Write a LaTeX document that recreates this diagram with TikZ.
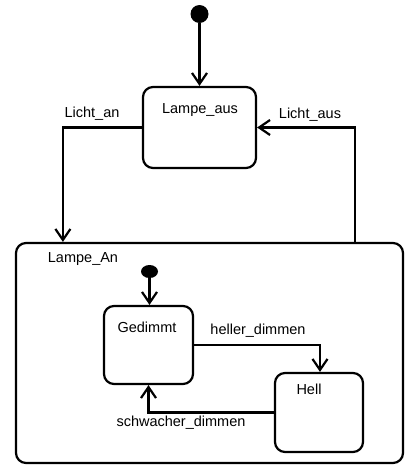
\documentclass[tikz,border=0pt]{standalone}
\usepackage{fontspec}
\setmainfont{Liberation Sans}
\usetikzlibrary{arrows.meta,shapes.geometric}
\begin{document}
\begin{tikzpicture}[x=1pt,y=-1pt,
  statebox/.style={draw,line width=2.2pt,rounded corners=10pt,rectangle,inner sep=0pt},
  lbl/.style={inner sep=0pt,font=\fontsize{14.5}{16}\selectfont},
  initdot/.style={fill=black,draw=none,inner sep=0pt},
  arr/.style={line width=2.2pt,-{Straight Barb[length=11pt,width=15pt,line width=2.2pt]}}]
\useasboundingbox (0,0) rectangle (414,474);
% nodes
\node[initdot,circle,minimum size=18pt] (i1) at (199.5,14) {};
\node[statebox,minimum width=113pt,minimum height=81pt] (aus) at (199.5,127.5) {};
\node[lbl] (tAus) at (200,110) {Lampe\_aus};
\node[statebox,minimum width=387pt,minimum height=220pt] (an) at (209.5,353) {};
\node[lbl] (tAn) at (83,259) {Lampe\_An};
\node[initdot,ellipse,minimum width=17pt,minimum height=13pt] (i2) at (149.5,271.5) {};
\node[statebox,minimum width=89pt,minimum height=78pt] (ged) at (148.5,345) {};
\node[lbl] (tGed) at (147,327) {Gedimmt};
\node[statebox,minimum width=88pt,minimum height=79pt] (hell) at (319,412.5) {};
\node[lbl] (tHell) at (309,389) {Hell};
% edge labels
\node[lbl] (lAn) at (92,114) {Licht\_an};
\node[lbl] (lAus) at (310,115) {Licht\_aus};
\node[lbl] (lHel) at (258,331) {heller\_dimmen};
\node[lbl] (lSch) at (181,423) {schwacher\_dimmen};
% connectors
\draw[arr] (i1) -- (i1 |- aus.north);
\draw[arr] (aus.west) -| ([xshift=48pt]an.north west);
\draw[arr] ([xshift=-49pt]an.north east) |- (aus.east);
\draw[arr] (i2) -- (i2 |- ged.north);
\draw[arr] (ged.east) -| ([xshift=1pt]hell.north);
\draw[arr] (hell.west) -| (ged.south);
\end{tikzpicture}
\end{document}
